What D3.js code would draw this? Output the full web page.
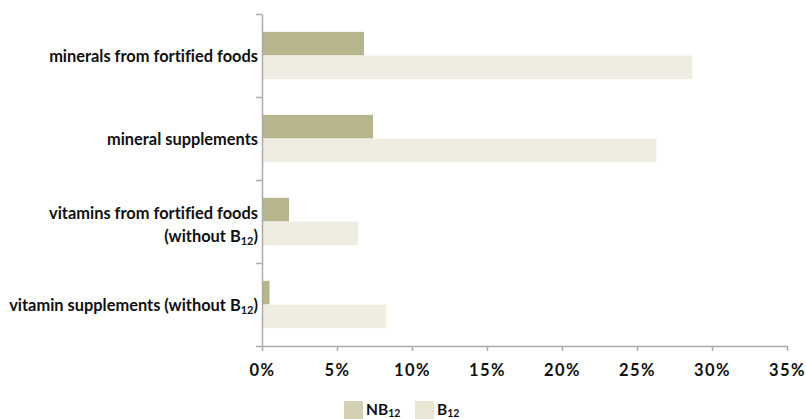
<!DOCTYPE html>
<html>
<head>
<meta charset="utf-8">
<script src="https://cdn.jsdelivr.net/npm/d3@7"></script>
<style>
  body { margin: 0; background: #fff; }
  svg { display: block; font-family: Lato, "Open Sans", sans-serif; font-weight: 700; font-variant-ligatures: none; }
  .axis path, .axis line { stroke: #ababab; stroke-width: 1.5; }
</style>
</head>
<body>
<svg></svg>
<script>
"use strict";

// categories, "_12" marks a subscript, "\n" a line break
const categories = [
  "minerals from fortified foods",
  "mineral supplements",
  "vitamins from fortified foods\n(without B_12)",
  "vitamin supplements (without B_12)",
];
const seriesNames = ["NB_12", "B_12"];
const nb12Values = [6.8, 7.4, 1.8, 0.5];
const b12Values = [28.7, 26.3, 6.4, 8.3];
const xTicks = [0, 5, 10, 15, 20, 25, 30, 35];

const width = 806;
const height = 419;

const barColors = ["#b7b58b", "#efede1"];
const legendColors = ["#d3d0b3", "#e8e7d5"];

const svg = d3.select("svg").attr("width", width).attr("height", height);

const xScale = d3.scaleLinear().domain([0, 35]).range([262, 787]);
const yScale = d3
  .scaleBand()
  .domain(categories)
  .range([14, 346])
  .paddingInner(0.43)
  .paddingOuter(0.215);
const subScale = d3
  .scaleBand()
  .domain(seriesNames)
  .range([0, yScale.bandwidth()]);

// append text with "_12" parts as subscripts
const writeRich = (sel, str, subSize, subShift) => {
  str.split(/_(\d+)/).forEach((part, i) => {
    if (!part) return;
    const t = sel.append("tspan").text(part);
    if (i % 2 === 1) {
      t.attr("font-size", subSize).attr("dy", subShift);
    } else if (i > 0) {
      t.attr("dy", -subShift);
    }
  });
};

const rows = categories.map((c, i) => ({
  cat: c,
  values: [nb12Values[i], b12Values[i]],
}));

const drawBars = () => {
  const g = svg
    .selectAll("g.row")
    .data(rows)
    .enter()
    .append("g")
    .attr("class", "row")
    .attr("transform", (d) => `translate(0,${yScale(d.cat)})`);

  g.selectAll("rect")
    .data((d) => d.values.map((v, j) => ({ key: seriesNames[j], v, j })))
    .enter()
    .append("rect")
    .attr("x", xScale(0))
    .attr("y", (d) => subScale(d.key))
    .attr("width", (d) => xScale(d.v) - xScale(0))
    .attr("height", subScale.bandwidth())
    .attr("fill", (d) => barColors[d.j]);
};

const drawAxes = () => {
  // y axis: ticks between categories
  const edge = d3.scaleLinear().domain([0, categories.length]).range([14, 346]);
  svg
    .append("g")
    .attr("class", "axis")
    .attr("transform", `translate(${xScale(0)},0)`)
    .call(
      d3.axisLeft(edge).tickValues(d3.range(categories.length + 1)).tickSize(6).tickSizeOuter(0).tickFormat("")
    );

  const xAxis = svg
    .append("g")
    .attr("class", "axis")
    .attr("transform", "translate(0,346)")
    .call(
      d3.axisBottom(xScale).tickValues(xTicks).tickSize(5).tickSizeOuter(0).tickPadding(13).tickFormat((d) => d + "%")
    );
  xAxis
    .selectAll("text")
    .attr("font-family", "Lato, sans-serif")
    .attr("font-weight", 700)
    .attr("font-size", 16.5)
    .attr("letter-spacing", "1.5px")
    .attr("fill", "#111");

  // category labels
  rows.forEach((d) => {
    const lines = d.cat.split("\n");
    const cy = yScale(d.cat) + yScale.bandwidth() / 2;
    const lh = 23;
    const top = cy + 6 - ((lines.length - 1) * lh) / 2 + (lines.length > 1 ? 3 : 0);
    lines.forEach((ln, k) => {
      const t = svg
        .append("text")
        .attr("x", 258)
        .attr("y", top + k * lh)
        .attr("text-anchor", "end")
        .attr("font-size", 16.4)
        .attr("fill", "#111");
      writeRich(t, ln, 11, 3);
    });
  });
};

const drawLegend = () => {
  const items = [
    { name: seriesNames[0], x: 344, color: legendColors[0] },
    { name: seriesNames[1], x: 415, color: legendColors[1] },
  ];
  const lg = svg.append("g").attr("class", "legend");
  items.forEach((it) => {
    lg.append("rect")
      .attr("x", it.x)
      .attr("y", 401)
      .attr("width", 19)
      .attr("height", 18)
      .attr("fill", it.color);
    const t = lg
      .append("text")
      .attr("x", it.x + 22)
      .attr("y", 414.5)
      .attr("font-size", 15.5)
      .attr("fill", "#111");
    writeRich(t, it.name, 10.5, 2);
  });
};

drawBars();
drawAxes();
drawLegend();
</script>
</body>
</html>
